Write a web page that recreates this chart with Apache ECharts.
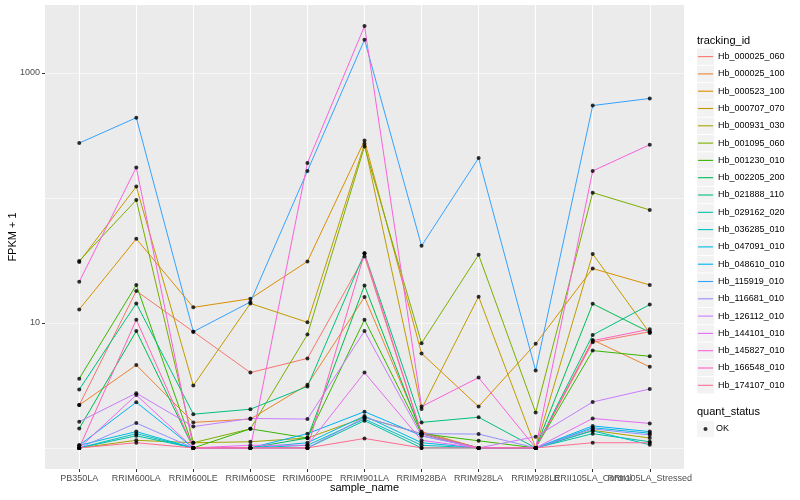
<!DOCTYPE html>
<html>
<head>
<meta charset="utf-8">
<script src="https://cdn.jsdelivr.net/npm/echarts@6/dist/echarts.min.js"></script>
<style>html,body{margin:0;padding:0;background:#fff}#c{width:800px;height:500px}</style>
</head>
<body>
<div id="c"></div>
<script>
const categories = ['PB350LA','RRIM600LA','RRIM600LE','RRIM600SE','RRIM600PE','RRIM901LA','RRIM928BA','RRIM928LA','RRIM928LE','RRII105LA_Control','RRII105LA_Stressed'];
const trackingIds = ['Hb_000025_060','Hb_000025_100','Hb_000523_100','Hb_000707_070','Hb_000931_030','Hb_001095_060','Hb_001230_010','Hb_002205_200','Hb_021888_110','Hb_029162_020','Hb_036285_010','Hb_047091_010','Hb_048610_010','Hb_115919_010','Hb_116681_010','Hb_126112_010','Hb_144101_010','Hb_145827_010','Hb_166548_010','Hb_174107_010'];
const palette = ['#F8766D','#EA8331','#D89000','#C09B00','#A3A500','#7CAE00','#39B600','#00BB4E','#00BF7D','#00C1A3','#00BFC4','#00BAE0','#00B0F6','#35A2FF','#9590FF','#C77CFF','#E76BF3','#FA62DB','#FF62BC','#FF6C91'];

// FPKM + 1 values, one array per tracking_id, in category order
const Hb_000025_060 = [2.2, 18.0, 8.5, 4.0, 5.2, 34, 1.3, 1.0, 1.0, 7.0, 8.5];
const Hb_000025_100 = [2.2, 4.6, 1.6, 1.7, 3.2, 16.1, 1.35, 1.0, 1.0, 7.3, 4.45];
const Hb_000523_100 = [12.8, 47, 13.3, 15.6, 31, 287, 5.7, 2.14, 6.8, 27.2, 20.1];
const Hb_000707_070 = [30.7, 123, 3.15, 14.3, 10.1, 270, 2.05, 16.2, 1.0, 35.6, 8.3];
const Hb_000931_030 = [1.0, 1.15, 1.1, 1.12, 1.2, 1.75, 1.3, 1.0, 1.0, 1.38, 1.2];
const Hb_001095_060 = [31.3, 96, 1.1, 1.42, 8.07, 257, 6.88, 35, 1.92, 110, 80];
const Hb_001230_010 = [3.58, 20.1, 1.0, 1.42, 1.2, 10.6, 1.3, 1.14, 1.0, 6.0, 5.4];
const Hb_002205_200 = [1.43, 8.6, 1.0, 1.0, 1.2, 19.9, 1.3, 1.0, 1.0, 14.2, 8.4];
const Hb_021888_110 = [2.93, 14.3, 1.86, 2.04, 3.1, 36, 1.6, 1.76, 1.0, 8.0, 14.0];
const Hb_029162_020 = [1.0, 1.25, 1.0, 1.0, 1.0, 1.65, 1.0, 1.0, 1.0, 1.3, 1.12];
const Hb_036285_010 = [1.0, 1.3, 1.0, 1.0, 1.05, 1.7, 1.05, 1.0, 1.0, 1.37, 1.06];
const Hb_047091_010 = [1.05, 1.35, 1.0, 1.0, 1.1, 1.8, 1.1, 1.0, 1.0, 1.45, 1.31];
const Hb_048610_010 = [1.05, 2.32, 1.0, 1.0, 1.3, 1.95, 1.25, 1.0, 1.0, 1.5, 1.35];
const Hb_115919_010 = [274, 437, 8.5, 14.7, 164, 1837, 41.3, 208, 4.15, 547, 623];
const Hb_116681_010 = [1.0, 1.58, 1.0, 1.0, 1.0, 1.75, 1.3, 1.29, 1.0, 1.42, 1.27];
const Hb_126112_010 = [1.62, 2.74, 1.48, 1.72, 1.7, 8.6, 1.25, 1.0, 1.23, 2.33, 2.96];
const Hb_144101_010 = [1.0, 2.65, 1.0, 1.05, 1.05, 4.0, 1.15, 1.0, 1.0, 1.72, 1.57];
const Hb_145827_010 = [21.3, 175, 1.0, 1.0, 190, 2362, 2.14, 3.65, 1.0, 164, 266];
const Hb_166548_010 = [1.0, 10.6, 1.0, 1.0, 1.0, 36, 1.3, 1.0, 1.0, 7.2, 8.9];
const Hb_174107_010 = [1.0, 1.1, 1.0, 1.0, 1.0, 1.19, 1.0, 1.0, 1.0, 1.1, 1.1];

const seriesValues = [Hb_000025_060,Hb_000025_100,Hb_000523_100,Hb_000707_070,Hb_000931_030,Hb_001095_060,Hb_001230_010,Hb_002205_200,Hb_021888_110,Hb_029162_020,Hb_036285_010,Hb_047091_010,Hb_048610_010,Hb_115919_010,Hb_116681_010,Hb_126112_010,Hb_144101_010,Hb_145827_010,Hb_166548_010,Hb_174107_010];
const yMajorTicks = [10, 1000];
const quantStatus = 'OK';

const FONT = 'Liberation Sans, Arial, Helvetica, sans-serif';

// ggplot-like 5% expansion on log scale
const allVals = seriesValues.flat();
const lmin = Math.log10(Math.min(...allVals)), lmax = Math.log10(Math.max(...allVals));
const pad = 0.05 * (lmax - lmin);
const yMin = Math.pow(10, lmin - pad), yMax = Math.pow(10, lmax + pad);

const lineSeries = trackingIds.map((name, k) => ({
  name, type: 'line', xAxisIndex: 0, yAxisIndex: 0,
  data: seriesValues[k].map((v, i) => [i, v]),
  showSymbol: false, symbol: 'none',
  lineStyle: { width: 1, color: palette[k] },
  itemStyle: { color: palette[k] },
  z: 2, animation: false, silent: true
}));
const pointSeries = {
  name: quantStatus, type: 'scatter', xAxisIndex: 0, yAxisIndex: 0,
  data: seriesValues.flatMap(vals => vals.map((v, i) => [i, v])),
  symbol: 'circle', symbolSize: 4, itemStyle: { color: '#000' },
  z: 3, animation: false, silent: true
};

const chart = echarts.init(document.getElementById('c'), null, { renderer: 'canvas' });
const catIdx = categories.map((c, i) => i);
// labels split over two overlaid x axes so that touching labels are all kept, as in the reference
const labelIdxA = catIdx.filter(i => i % 2 === 0);
const labelIdxB = catIdx.filter(i => i % 2 === 1);
const xLabelStyle = { formatter: v => categories[Math.round(v)] || '', color: '#4D4D4D', fontSize: 9, margin: 5, fontFamily: FONT,
                      hideOverlap: false, showMinLabel: true, showMaxLabel: true };
chart.setOption({
  animation: false,
  textStyle: { fontFamily: FONT },
  grid: { left: 45, right: 116, top: 5, bottom: 31, show: true, backgroundColor: '#EBEBEB', borderWidth: 0, containLabel: false, outerBoundsMode: 'none' },
  xAxis: [{
    type: 'value', min: -0.6, max: 10.6, position: 'bottom',
    axisLine: { show: false, onZero: false },
    axisTick: { show: true, customValues: catIdx, length: 3, lineStyle: { color: '#333333', width: 1 } },
    axisLabel: Object.assign({ customValues: labelIdxA }, xLabelStyle),
    splitLine: { show: true, lineStyle: { color: '#FFFFFF', width: 1.1 } },
    name: 'sample_name', nameLocation: 'middle', nameGap: 13, nameMoveOverlap: false,
    nameTextStyle: { color: '#000', fontSize: 11, fontFamily: FONT }
  }, {
    type: 'value', min: -0.6, max: 10.6, position: 'bottom',
    axisLine: { show: false, onZero: false },
    axisTick: { show: false },
    axisLabel: Object.assign({ customValues: labelIdxB }, xLabelStyle),
    splitLine: { show: false }
  }],
  yAxis: [{
    type: 'log', logBase: 10, min: yMin, max: yMax,
    axisLine: { show: false, onZero: false },
    axisTick: { show: true, customValues: yMajorTicks, length: 3, lineStyle: { color: '#333333', width: 1 } },
    axisLabel: { customValues: yMajorTicks, formatter: v => String(Math.round(v)), color: '#4D4D4D', fontSize: 9, margin: 5, fontFamily: FONT, showMinLabel: true, showMaxLabel: true },
    splitLine: { show: true, showMinLine: false, showMaxLine: false, lineStyle: { color: '#FFFFFF', width: 1.1 } },
    name: 'FPKM + 1', nameLocation: 'middle', nameGap: 27, nameRotate: 90, nameMoveOverlap: false,
    nameTextStyle: { color: '#000', fontSize: 11, fontFamily: FONT }
  }, {
    type: 'log', logBase: 10, min: yMin, max: yMax, position: 'left',
    axisLine: { show: false, onZero: false }, axisTick: { show: false }, axisLabel: { show: false },
    splitLine: { show: true, showMinLine: false, showMaxLine: false, lineStyle: { color: '#FFFFFF', width: 0.55 } }
  }],
  legend: [
    { // key backgrounds
      data: trackingIds, orient: 'vertical', left: 697, top: 48.5, padding: 0,
      icon: 'rect', itemWidth: 17, itemHeight: 16.3, itemGap: 1, selectedMode: false,
      itemStyle: { color: '#F2F2F2', borderWidth: 0 },
      textStyle: { color: 'rgba(0,0,0,0)', fontSize: 9, lineHeight: 12 }
    },
    { // key lines + labels
      data: trackingIds, orient: 'vertical', left: 698, top: 50.6, padding: 0,
      icon: 'rect', itemWidth: 15, itemHeight: 1.1, itemGap: 5.3, selectedMode: false,
      itemStyle: { borderWidth: 0 },
      textStyle: { color: '#000', fontSize: 9, lineHeight: 12, fontFamily: FONT }
    },
    {
      data: [quantStatus], orient: 'vertical', left: 697, top: 420.9, padding: 0,
      icon: 'rect', itemWidth: 17, itemHeight: 16.3, selectedMode: false,
      itemStyle: { color: '#F2F2F2', borderWidth: 0 },
      textStyle: { color: 'rgba(0,0,0,0)', fontSize: 9, lineHeight: 12 }
    },
    {
      data: [quantStatus], orient: 'vertical', left: 703.5, top: 423, padding: 0,
      icon: 'circle', itemWidth: 4, itemHeight: 4, selectedMode: false,
      itemStyle: { color: '#000', borderWidth: 0 },
      textStyle: { color: '#000', fontSize: 9, lineHeight: 12, fontFamily: FONT, padding: [0, 0, 0, 3.5] }
    }
  ],
  graphic: [
    { type: 'text', left: 697, top: 35, style: { text: 'tracking_id', fontSize: 11, fill: '#000', fontFamily: FONT } },
    { type: 'text', left: 697, top: 406, style: { text: 'quant_status', fontSize: 11, fill: '#000', fontFamily: FONT } }
  ],
  series: [...lineSeries, pointSeries]
});
</script>
</body>
</html>
